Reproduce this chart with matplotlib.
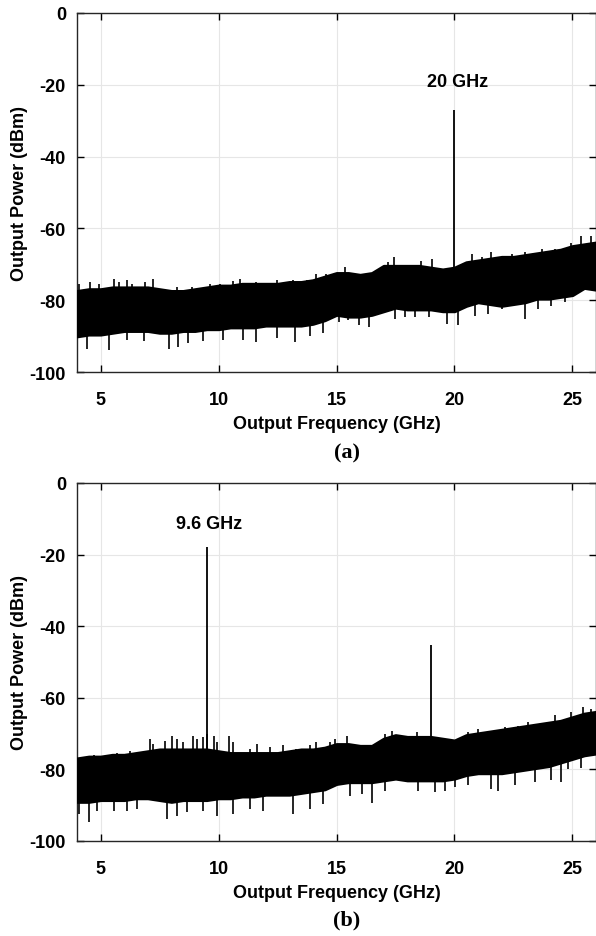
import matplotlib
matplotlib.use('Agg')
import matplotlib.pyplot as plt
import numpy as np

plt.rcParams['font.family'] = ['Liberation Sans', 'DejaVu Sans']
plt.rcParams['axes.unicode_minus'] = False

# body of the noise floor, read every 0.5 GHz (dBm)
freq = [4.0, 4.5, 5.0, 5.5, 6.0, 6.5, 7.0, 7.5, 8.0, 8.5, 9.0, 9.5, 10.0, 10.5, 11.0,
        11.5, 12.0, 12.5, 13.0, 13.5, 14.0, 14.5, 15.0, 15.5, 16.0, 16.5, 17.0, 17.5,
        18.0, 18.5, 19.0, 19.5, 20.0, 20.5, 21.0, 21.5, 22.0, 22.5, 23.0, 23.5, 24.0,
        24.5, 25.0, 25.5, 26.0]

upper_a = [-77.5, -77, -77, -76.5, -76.5, -76.5, -76.5, -77, -77.5, -77.5, -77, -76.5,
           -76, -76, -75.5, -75.5, -75.5, -75.5, -75, -75, -74.5, -73.5, -72.5, -72.5,
           -73, -72.5, -70.5, -70.5, -70.5, -70.5, -71, -71.5, -71, -69.5, -69, -68.5,
           -68, -68, -67.5, -67, -66.5, -66, -65, -64.5, -64]
lower_a = [-90, -89.5, -89.5, -89, -88.5, -88.5, -88.5, -89, -89, -88.5, -88.5, -88,
           -88, -87.5, -87.5, -87.5, -87, -87, -87, -87, -86.5, -85.5, -84, -84.5, -84.5,
           -84, -83, -82, -82.5, -82.5, -82.5, -83, -83, -81.5, -80.5, -81, -81.5, -81,
           -80.5, -79.5, -79.5, -79, -78.5, -76.5, -77]

upper_b = [-77, -76.5, -76.5, -76, -76, -75.5, -75, -74.5, -74.5, -74.5, -74.5, -74.5,
           -75, -75.5, -75.5, -75.5, -75.5, -75.5, -75, -74.5, -74.5, -74, -73, -73,
           -73.5, -73.5, -71.5, -70.5, -71, -71, -71, -71.5, -72, -70.5, -70, -69.5, -69,
           -68.5, -68, -67.5, -67, -66.5, -65.5, -64.5, -64]
lower_b = [-89, -89, -88.5, -88.5, -88.5, -88, -88, -88.5, -89, -88.5, -88.5, -88.5,
           -88, -88, -87.5, -87.5, -87, -87, -87, -86.5, -86, -85.5, -84, -83.5, -83.5,
           -83.5, -83, -82.5, -83, -83, -83, -83, -82.5, -81.5, -81, -81, -81, -80.5, -80,
           -79.5, -79, -78, -77, -76, -75.5]

# noise spikes sticking out of the floor (GHz, dBm)
spike_up_a = [(4.07, -75.5), (4.56, -75), (4.92, -75.5), (5.55, -74.1), (5.76, -75),
              (6.11, -74.5), (6.33, -75.5), (6.89, -74.8), (7.24, -74.1), (8.23, -76.2),
              (8.86, -76.2), (9.64, -75.5), (10.06, -75.5), (10.62, -74.6), (10.9, -74.1),
              (11.6, -74.8), (12.46, -74.5), (13.16, -74.3), (13.73, -74.5), (14.15, -72.7),
              (14.57, -72.7), (15.37, -70.8), (17.2, -69.4), (17.42, -68), (18.6, -69),
              (19.04, -68.5), (20.73, -67.1), (21.15, -68), (21.57, -66.6), (22.42, -67.1),
              (22.98, -66.7), (23.69, -65.8), (24.25, -65.8), (24.96, -64), (25.38, -62.1),
              (25.8, -62.1)]
spike_dn_a = [(4.42, -93.6), (5.34, -93.8), (6.11, -91), (6.82, -91.5), (7.88, -93.6),
              (8.3, -93), (8.72, -92), (9.36, -91.5), (10.2, -91), (11.05, -91),
              (11.6, -91.7), (12.46, -90.5), (13.23, -91.7), (13.87, -90), (14.43, -89),
              (15.09, -86.1), (15.5, -85.5), (15.94, -86.9), (16.36, -87.4), (17.49, -85.2),
              (17.91, -84.8), (18.33, -84.8), (18.9, -84.8), (19.67, -86.5), (20.16, -86.9),
              (20.87, -84.3), (21.43, -83.8), (22.0, -82.5), (22.98, -85.2), (23.55, -82.5),
              (24.11, -81.6), (24.68, -80.6), (25.1, -77)]
spike_up_b = [(4.7, -76), (5.7, -75.5), (6.25, -75), (7.1, -71.5), (7.24, -72.8),
              (7.73, -72), (8.02, -70.6), (8.23, -71.5), (8.48, -72.4), (8.93, -70.6),
              (9.07, -71.5), (9.36, -71), (9.5, -70), (9.81, -70.6), (9.92, -72.4),
              (10.46, -70.6), (10.62, -72.4), (11.33, -74.2), (11.61, -72.8), (12.17, -73.8),
              (12.74, -73.3), (13.3, -74.2), (13.87, -73.3), (14.15, -72.4), (14.71, -72.4),
              (14.92, -71.5), (15.44, -70.6), (17.06, -70.1), (17.35, -69.2), (18.4, -69.6),
              (18.68, -70.6), (20.59, -69.6), (21.01, -68.7), (22.14, -68.3), (22.7, -67.8),
              (23.12, -66.9), (23.69, -67.3), (24.25, -64.9), (24.96, -64), (25.45, -62.6),
              (25.8, -63.1)]
spike_dn_b = [(4.07, -92.5), (4.49, -94.8), (4.85, -91.6), (5.55, -91.6), (6.11, -91.6),
              (6.54, -91.1), (7.81, -93.8), (8.23, -92.9), (8.65, -92), (9.36, -91.6),
              (9.92, -93), (10.62, -92.5), (11.33, -91.1), (11.89, -91.6), (13.16, -92.5),
              (13.87, -91.1), (14.43, -89.7), (15.09, -84.5), (15.58, -87.4), (16.08, -86.9),
              (16.5, -89.5), (17.06, -86), (18.47, -86), (19.18, -86.4), (19.6, -86),
              (20.02, -85), (20.59, -84.5), (21.57, -85.5), (21.86, -86), (22.56, -84.5),
              (23.41, -83.6), (24.11, -83.1), (24.53, -83.6), (24.82, -80), (25.38, -79.5)]

# output tones (GHz, dBm)
tones_a = [(20.0, -27)]
tones_b = [(9.5, -18), (19.0, -45.3)]

labels_a = [(20.15, -19, '20 GHz')]
labels_b = [(9.58, -11.2, '9.6 GHz')]


def panel(ax, upper, lower, up, dn, tones, labels, caption, cap_y):
    ax.fill_between(freq, lower, upper, color='k', lw=2.5, zorder=3)
    mid = [(u + l) / 2 for u, l in zip(upper, lower)]
    for f, v in up + dn:
        ax.vlines(f, np.interp(f, freq, mid), v, color='k', lw=1.2, zorder=3)
    for f, v in tones:
        ax.vlines(f, np.interp(f, freq, mid), v, color='k', lw=1.3, zorder=3)
    for x, y, s in labels:
        ax.text(x, y, s, ha='center', va='center', fontsize=13, fontweight='bold')
    ax.set_xlim(4, 26)
    ax.set_ylim(-100, 0)
    ax.set_xticks([5, 10, 15, 20, 25])
    ax.set_yticks([0, -20, -40, -60, -80, -100])
    ax.tick_params(direction='in', top=True, right=True, length=5, width=1,
                   labelsize=13)
    ax.tick_params(axis='x', pad=14)
    ax.tick_params(axis='y', pad=8)
    for lab in ax.get_xticklabels() + ax.get_yticklabels():
        lab.set_fontweight('bold')
    ax.grid(True, color='#e6e6e6', lw=0.8)
    ax.set_axisbelow(True)
    for sp in ax.spines.values():
        sp.set_color('#262626')
        sp.set_linewidth(1)
    ax.set_xlabel('Output Frequency (GHz)', fontsize=13, fontweight='bold', labelpad=5)
    ax.set_ylabel('Output Power (dBm)', fontsize=13, fontweight='bold', labelpad=1)
    ax.text(0.52, cap_y, caption, transform=ax.transAxes, ha='center', va='center',
            fontsize=16, fontweight='bold', family='Liberation Serif')


fig = plt.figure(figsize=(5.96, 9.37), dpi=100)
ax1 = fig.add_axes([0.1292, 0.6019, 0.8708, 0.3832])
ax2 = fig.add_axes([0.1292, 0.1014, 0.8708, 0.3821])
panel(ax1, upper_a, lower_a, spike_up_a, spike_dn_a, tones_a, labels_a, '(a)', -0.223)
panel(ax2, upper_b, lower_b, spike_up_b, spike_dn_b, tones_b, labels_b, '(b)', -0.22)
fig.savefig('out.png', dpi=100)
